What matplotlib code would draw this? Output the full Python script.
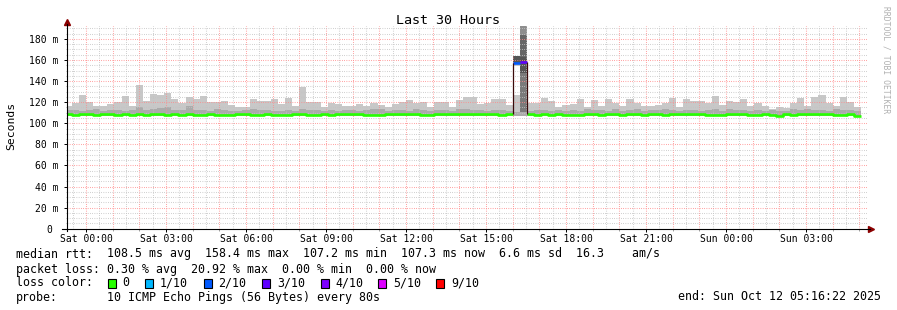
import numpy as np
import matplotlib
matplotlib.use("Agg")
import matplotlib.pyplot as plt
from matplotlib.patches import Rectangle

W, H = 897, 310
FONT = "DejaVu Sans Mono"
plt.rcParams['font.family'] = [FONT, 'DejaVu Sans']

# ---------------- data ----------------
title = "Last 30 Hours"
y_label = "Seconds"
window_end_h = 29 + 16 / 60 + 22 / 3600      # hours since Sat 00:00 (Sun 05:16:22)
window_hours = 30
bar_step_h = 16 / 60
first_bar_start_h = -0.8

xtick_hours = [0, 3, 6, 9, 12, 15, 18, 21, 24, 27]
xtick_labels = ["Sat 00:00", "Sat 03:00", "Sat 06:00", "Sat 09:00", "Sat 12:00",
                "Sat 15:00", "Sat 18:00", "Sat 21:00", "Sun 00:00", "Sun 03:00"]
ytick_values = [0, 20, 40, 60, 80, 100, 120, 140, 160, 180]
ytick_labels = ["0 ", "20 m", "40 m", "60 m", "80 m", "100 m", "120 m", "140 m", "160 m", "180 m"]

nan = np.nan
# top of smoke (max ping, ms)
smoke_max = [116.5, 119, 126.7, 120.3, 116, 116.5, 118.4, 120.3, 126, 116,
             136, 121, 128, 126.7, 128.6, 123, 119, 124.8, 123, 126,
             120, 120, 121, 117, 115, 115, 123, 121, 121, 123,
             118, 123.8, 116, 134.5, 120, 120, 115.5, 119, 118, 116,
             116.5, 118, 116.5, 119.5, 117, 115, 118, 120, 122, 119,
             120, 115, 120, 120.5, 115.5, 122, 124.5, 124.5, 118, 119.5,
             123, 123, 117, nan, nan, 119, 119, 124, 121, 115,
             117, 118, 123, 115, 122, 116, 123, 119, 116.5, 123,
             119, 116.5, 116.5, 117.5, 119.5, 124, 115, 123, 121.5, 121.6,
             119.6, 126, 117, 121, 120.3, 123, 116, 119.6, 116, 113.5,
             115.3, 114.5, 119, 123.6, 116.5, 125, 127, 119.5, 116, 125,
             120, 115.5]
# top of the inner (denser) smoke band
smoke_mid = [112.5, 113, 112, 112.5, 113.5, 112, 112.5, 113, 112, 112.5,
             115.5, 113, 114, 114.5, 115, 112.5, 113, 116, 112.5, 112.5,
             112, 113.5, 112.5, 112, 112, 113, 114, 112.5, 113, 112,
             112, 112.5, 112, 114, 112.5, 113, 112, 112.5, 112, 112.5,
             112.5, 112, 113, 114, 113.5, 112, 112.5, 113, 112, 114,
             112.5, 112, 113, 112.5, 112, 113.5, 114, 113, 112.5, 112,
             113, 112.5, 112, nan, nan, 112, 112.5, 113, 112, 113,
             112, 113, 112, 114, 113, 112.5, 112, 113.5, 112, 112.5,
             113.5, 112, 113, 112.5, 114, 113, 112, 112.5, 113, 112,
             113, 114, 112, 113.5, 112.5, 113, 112, 113, 112, 112.5,
             112, 112, 113.5, 113, 114, 112.5, 113, 112, 114, 112.5,
             113, 112]
smoke_min = 107.0
# median rtt per bar (ms)
median_rtt = [108.9, 107.4, 108.8, 109.0, 107.5, 108.9, 108.8, 107.4, 109.0, 107.5,
              108.9, 107.4, 108.8, 108.9, 107.4, 109.0, 107.5, 108.9, 107.4, 107.4,
              108.8, 107.4, 107.5, 107.4, 108.9, 109.0, 107.4, 107.5, 108.9, 107.4,
              107.4, 107.5, 108.8, 108.9, 107.4, 107.4, 109.0, 107.5, 108.9, 108.8,
              108.9, 109.0, 107.4, 107.4, 107.5, 108.9, 108.8, 108.9, 109.0, 108.9,
              107.4, 107.5, 108.9, 108.8, 108.9, 109.0, 108.9, 108.8, 108.9, 109.0,
              108.9, 107.4, 108.9, 157.4, 158.4, 108.9, 107.4, 108.8, 107.5, 108.9,
              107.4, 107.4, 107.5, 108.9, 108.8, 107.4, 108.9, 109.0, 107.4, 108.9,
              108.8, 107.5, 108.9, 109.0, 107.4, 108.9, 108.8, 108.9, 109.0, 108.9,
              107.4, 107.5, 107.4, 108.9, 108.8, 108.9, 107.4, 107.5, 108.9, 107.4,
              107.2, 108.9, 107.5, 108.8, 108.9, 109.0, 108.9, 108.8, 107.4, 107.5,
              108.9, 107.3]
# packet loss per bar (lost pings out of 10)
loss_tenths = [0] * 63 + [2, 3] + [0] * 47

# smoke of the two high-loss bars: (bar index, low ms, high ms, density level)
spike_bands = [(63, 107.0, 111.0, 1), (63, 111.0, 127.0, 0), (63, 154.8, 155.8, 0),
               (63, 156.6, 157.6, 4), (63, 157.6, 163.5, 5),
               (64, 107.0, 110.5, 1), (64, 110.5, 147.6, 3), (64, 147.6, 163.0, 5),
               (64, 163.0, 184.0, 4), (64, 184.0, 192.0, 2)]

loss_keys = ["0", "1/10", "2/10", "3/10", "4/10", "5/10", "9/10"]
loss_colors = ["#26ff00", "#00b8ff", "#0059ff", "#5e00ff", "#7e00ff", "#dd00ff", "#ff0000"]
loss_color_by_tenths = {0: "#26ff00", 1: "#00b8ff", 2: "#0059ff", 3: "#5e00ff",
                        4: "#7e00ff", 5: "#dd00ff", 9: "#ff0000"}

legend_rows = [
    ("median rtt:", "108.5 ms avg  158.4 ms max  107.2 ms min  107.3 ms now  6.6 ms sd  16.3    am/s"),
    ("packet loss:", "0.30 % avg  20.92 % max  0.00 % min  0.00 % now"),
    ("loss color:", None),
    ("probe:", "10 ICMP Echo Pings (56 Bytes) every 80s"),
]
end_text = "end: Sun Oct 12 05:16:22 2025"
watermark = "RRDTOOL / TOBI OETIKER"

# ---------------- drawing ----------------
shades = ["#c8c8c8", "#ababab", "#8e8e8e", "#7a7a7a", "#666666", "#555555"]

fig = plt.figure(figsize=(W / 100, H / 100), dpi=100)
fig.patch.set_facecolor("white")

def fx(px):
    return px / W

def fy(py):
    return 1 - py / H

ax_left, ax_right, ax_bottom, ax_top = 66.6, 866.6, 228.7, 26.3
ax = fig.add_axes([fx(ax_left), fy(ax_bottom), (ax_right - ax_left) / W, (ax_bottom - ax_top) / H])
ax.set_facecolor("white")
x0 = window_end_h - window_hours
ax.set_xlim(x0, window_end_h)
ax.set_ylim(0, 192)

n = len(smoke_max)
starts = first_bar_start_h + bar_step_h * np.arange(n)
smax = np.array(smoke_max, dtype=float)
smid = np.array(smoke_mid, dtype=float)
med = np.array(median_rtt, dtype=float)
loss = np.array(loss_tenths)

# smoke
ax.bar(starts, smax - smid, bottom=smid, width=bar_step_h, align="edge",
       color=shades[0], linewidth=0, zorder=1)
ax.bar(starts, smid - smoke_min, bottom=smoke_min, width=bar_step_h, align="edge",
       color=shades[1], linewidth=0, zorder=1)
for bi, lo, hi, lvl in spike_bands:
    ax.bar(starts[bi], hi - lo, bottom=lo, width=bar_step_h, align="edge",
           color=shades[lvl], linewidth=0, zorder=1)

# grid (drawn over the smoke, as rrdtool does)
dot = (0, (0.72, 1.44))
for h in np.arange(np.ceil(x0 * 2) / 2, window_end_h, 0.5):
    if abs(h - round(h)) < 1e-6:
        ax.axvline(h, color="#ff8a8a", lw=0.75, ls=dot, zorder=2)
    else:
        ax.axvline(h, color="#c4c4c4", lw=0.75, ls=dot, zorder=2)
for v in range(5, 192, 5):
    if v % 20 == 0:
        ax.axhline(v, color="#ff8a8a", lw=0.75, ls=dot, zorder=2)
    else:
        ax.axhline(v, color="#c4c4c4", lw=0.75, ls=dot, zorder=2)

# median line, coloured by loss
ok = np.where(loss == 0, med, np.nan)
xs = np.append(starts, starts[-1] + bar_step_h)
ax.step(xs, np.append(ok, ok[-1]), where="post", color=loss_color_by_tenths[0], lw=1.9, zorder=4,
        solid_capstyle="butt")
for i in np.where(loss > 0)[0]:
    ax.hlines(med[i], starts[i], starts[i] + bar_step_h, color=loss_color_by_tenths[loss[i]],
              lw=1.9, zorder=4)
lossy = np.where(loss > 0)[0]
if len(lossy):
    a, b = lossy[0], lossy[-1]
    ax.vlines(starts[a], med[a - 1], med[a], color="#3a0a0a", lw=0.9, zorder=4)
    ax.vlines(starts[b] + bar_step_h, med[b + 1], med[b], color="#3a0a0a", lw=0.9, zorder=4)

# axes
for s in ax.spines.values():
    s.set_visible(False)
ax.plot([0, 0], [-0.012, 1.01], transform=ax.transAxes, color="black", lw=0.8, clip_on=False, zorder=5)
ax.plot([-0.006, 1.004], [0, 0], transform=ax.transAxes, color="black", lw=0.8, clip_on=False, zorder=5)
ax.plot([0], [1.02], marker="^", markersize=4.5, color="#8b0000", transform=ax.transAxes, clip_on=False)
ax.plot([1.005], [0], marker=">", markersize=4.5, color="#8b0000", transform=ax.transAxes, clip_on=False)

ax.set_xticks(xtick_hours)
ax.set_xticklabels(xtick_labels, fontsize=7, fontfamily=FONT)
ax.set_xticks(np.arange(0, 30, 1), minor=True)
ax.set_yticks(ytick_values)
ax.set_yticklabels(ytick_labels, fontsize=7, fontfamily=FONT)
ax.set_yticks(np.arange(0, 192, 5), minor=True)
ax.tick_params(axis="x", which="major", length=2, width=0.7, pad=1.6, color="black")
ax.tick_params(axis="x", which="minor", length=1.2, width=0.6, color="#909090")
ax.tick_params(axis="y", which="major", length=2.2, width=0.7, pad=3.6, color="black")
ax.tick_params(axis="y", which="minor", length=1.0, width=0.6, color="#a0a0a0")

# texts
fig.text(fx(448), fy(20), title, ha="center", va="center", fontsize=9.6, fontfamily=FONT)
fig.text(fx(11), fy(126), y_label, ha="center", va="center", rotation=90, fontsize=8.2, fontfamily=FONT)
fig.text(fx(886), fy(60), watermark, ha="center", va="center", rotation=270, fontsize=5.8,
         fontfamily=FONT, color="#b0b0b0")

row_y = [254, 269, 283, 297]
lfs = 8.4
for (label, rest), yy in zip(legend_rows, row_y):
    fig.text(fx(16), fy(yy), label, ha="left", va="center", fontsize=lfs, fontfamily=FONT)
    if rest is not None:
        fig.text(fx(107), fy(yy), rest, ha="left", va="center", fontsize=lfs, fontfamily=FONT)

sq_x = [107.5, 145, 203.5, 262, 320.8, 378, 436]
for key, col, sx in zip(loss_keys, loss_colors, sq_x):
    fig.patches.append(Rectangle((fx(sx), fy(row_y[2] + 4.5)), 8 / W, 9 / H, transform=fig.transFigure,
                                 facecolor=col, edgecolor="black", linewidth=0.8))
    fig.text(fx(sx + 15), fy(row_y[2]), key, ha="left", va="center", fontsize=lfs, fontfamily=FONT)

fig.text(fx(881), fy(row_y[3]), end_text, ha="right", va="center", fontsize=lfs, fontfamily=FONT)

fig.savefig("out.png", dpi=100, facecolor="white")
